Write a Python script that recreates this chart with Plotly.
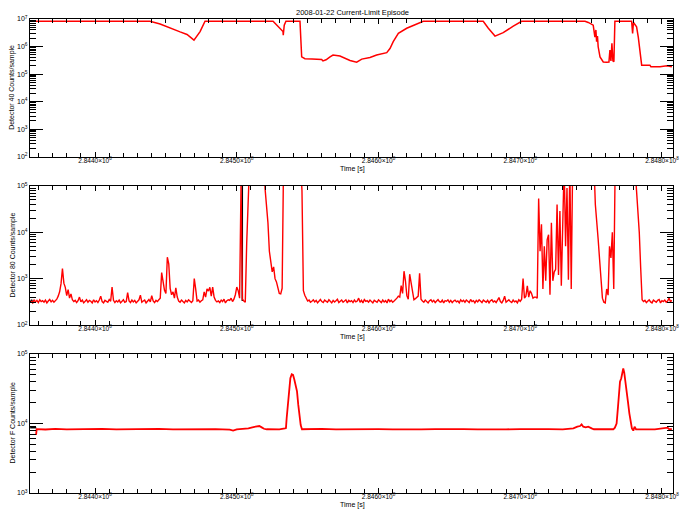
import numpy as np
import plotly.graph_objects as go

# ---------------- data ----------------
T0 = 2.8440e8  # s, reference epoch for the time offsets below (ks = 1000 s)

title_text = "2008-01-22 Current-Limit Episode"
x_tick_vals = [2.8440e8, 2.8450e8, 2.8460e8, 2.8470e8, 2.8480e8]
x_tick_text = ["2.8440×10<sup>8</sup>", "2.8450×10<sup>8</sup>", "2.8460×10<sup>8</sup>",
               "2.8470×10<sup>8</sup>", "2.8480×10<sup>8</sup>"]
y_labels = ["Detector 40 Counts/sample", "Detector 80 Counts/sample", "Detector F Counts/sample"]
x_label = "Time [s]"

# Panel 1 : Detector 40
d40_ks = [-45.2, 38.8, 45.9, 52.9, 60.0, 64.9, 69.1, 69.8, 74.1, 77.6,
          125.6, 129.1, 132.6, 132.8, 133.5, 134.7, 144.6, 145.8, 148.1, 153.1,
          159.9, 160.8, 163.0, 165.8, 167.9, 172.8, 177.8, 179.9, 184.6, 188.2,
          194.0, 198.7, 205.8, 208.1, 210.4, 214.0, 219.9, 226.9, 231.6, 273.9,
          277.5, 282.2, 288.0, 295.1, 301.0, 345.7, 348.0, 351.5, 352.7, 353.4,
          353.9, 354.5, 355.0, 356.3, 358.6, 361.0, 362.6, 363.3, 364.0, 364.7,
          365.4, 366.1, 366.8, 378.6, 379.3, 379.9, 382.1, 383.3, 384.5, 385.7,
          391.5, 392.2, 398.6, 403.5, 407.0]
d40_counts = [8.3e6, 8.3e6, 6.6e6, 4.6e6, 3.4e6, 2.75e6, 1.8e6, 1.7e6, 3.5e6, 8.3e6,
              8.3e6, 5.2e6, 3.5e6, 2.6e6, 6.0e6, 8.3e6, 8.3e6, 4.2e5, 3.6e5, 3.5e5,
              3.4e5, 3.0e5, 3.3e5, 4.2e5, 4.9e5, 4.5e5, 3.5e5, 3.1e5, 2.7e5, 3.5e5,
              4.0e5, 4.9e5, 6.0e5, 8.5e5, 1.5e6, 3.0e6, 4.6e6, 6.6e6, 8.3e6, 8.3e6,
              4.6e6, 2.4e6, 3.2e6, 5.5e6, 8.3e6, 8.3e6, 7.5e6, 6.0e6, 2.2e6, 4.0e6,
              1.5e6, 2.4e6, 9.8e5, 4.2e5, 2.75e5, 2.7e5, 2.75e5, 7.4e5, 3.0e5, 1.3e6,
              3.0e5, 2.8e5, 8.3e6, 8.3e6, 3.0e6, 7.5e6, 5.2e6, 2.2e6, 5.6e5, 2.1e5,
              2.1e5, 1.85e5, 1.85e5, 2.0e5, 1.85e5]

# Panel 2 : Detector 80, one sample per ks starting at -45 ks
d80_start_ks = -45.0
d80_step_ks = 1.0
d80_counts = [
    330, 300, 345, 315, 340, 305, 350, 320, 335, 310, 345, 300, 330, 355, 315, 340, 310, 330, 360, 420,
    520, 780, 1650, 800, 650, 430, 580, 380, 470, 350, 320, 340, 305, 335, 400, 315, 345, 300, 330, 350,
    310, 340, 325, 300, 350, 315, 335, 305, 345, 420, 320, 300, 340, 330, 310, 355, 325, 660, 340, 305,
    335, 315, 345, 300, 330, 350, 310, 320, 500, 330, 305, 345, 315, 340, 300, 335, 350, 440, 310, 330,
    345, 300, 325, 355, 315, 430, 330, 305, 340, 320, 350, 380, 1350, 950, 560, 480, 2900, 2100, 620, 450,
    520, 380, 630, 400, 330, 310, 345, 320, 300, 340, 315, 350, 325, 305, 335, 1000, 600, 330, 345, 310,
    335, 350, 520, 400, 600, 540, 650, 420, 660, 400, 340, 315, 330, 305, 345, 320, 360, 300, 335, 350,
    340, 380, 320, 360, 450, 660, 550, 380, 110000, 360, 330, 310, 5800, 300000, 300000, 300000, 300000, 300000, 300000, 300000,
    300000, 300000, 300000, 300000, 300000, 85000, 35000, 16000, 3900, 2100, 1400, 1800, 1000, 850, 600, 480, 470, 620, 300000, 300000,
    300000, 300000, 300000, 300000, 300000, 300000, 300000, 300000, 300000, 300000, 300000, 80000, 550, 440, 380, 330, 345, 310, 325, 350,
    315, 340, 300, 335, 355, 320, 305, 345, 330, 310, 350, 325, 300, 340, 315, 335, 360, 305, 330, 345,
    310, 325, 350, 300, 340, 320, 335, 305, 345, 315, 330, 380, 310, 340, 300, 355, 325, 335, 310, 345,
    320, 300, 340, 330, 310, 350, 325, 305, 345, 315, 335, 300, 360, 320, 340, 310, 330, 350, 380, 420,
    400, 710, 480, 1450, 900, 430, 360, 1250, 760, 460, 350, 370, 390, 420, 1300, 360, 330, 310, 345, 320,
    300, 335, 350, 315, 340, 305, 330, 355, 320, 310, 345, 300, 335, 325, 350, 310, 340, 305, 330, 345,
    315, 330, 300, 350, 320, 340, 310, 345, 325, 305, 355, 320, 335, 300, 340, 315, 350, 330, 305, 345,
    320, 310, 340, 300, 335, 350, 315, 330, 305, 345, 390, 320, 300, 340, 420, 310, 335, 350, 320, 305,
    345, 315, 330, 300, 350, 325, 360, 1000, 380, 420, 700, 400, 550, 480, 380, 400, 400, 380, 54000, 3900,
    15000, 600, 5000, 900, 6900, 8900, 450, 16000, 900, 1400, 1600, 40000, 1200, 29000, 700, 10000, 300000, 5000, 90000, 950,
    300000, 600, 300000, 300000, 300000, 300000, 300000, 300000, 300000, 300000, 300000, 300000, 300000, 300000, 300000, 300000, 300000, 300000, 40000, 20000,
    7000, 2600, 1000, 380, 310, 300, 600, 440, 5000, 2800, 10000, 600, 300000, 300000, 300000, 300000, 300000, 300000, 300000, 300000,
    300000, 300000, 300000, 300000, 300000, 300000, 300000, 85000, 35000, 10000, 1700, 350, 320, 340, 305, 330, 350, 315, 300, 345,
    325, 310, 340, 355, 300, 335, 320, 345, 310, 330, 380, 320, 340,
]
d80_black_ks = [-45.6, -44.8, -44.0, -43.2, None, 103.9, 103.9]
d80_black_counts = [310, 350, 300, 340, None, 330, 110000]

# Panel 3 : Detector F
dF_ks = [-41.6, -41.2, -35, -28, -20, -12, -5, 5, 15, 25, 35, 45, 55, 65, 75, 85, 95, 97.4, 100,
         106, 108.2, 111.7, 114, 115.9, 117.6, 119.2, 121.1, 126, 130, 134, 134.7, 135.2, 136,
         136.7, 137.1, 137.8, 138.8, 139.7, 140.6, 141.6, 142.5, 143.4, 144.1, 145.1, 146, 150,
         154, 160, 170, 180, 190, 200, 210, 220, 230, 240, 250, 260, 270, 280, 290, 300, 310,
         320, 330, 337.5, 340.3, 342.2, 343.3, 344.5, 346.2, 348, 350.4, 352, 356, 360, 365.7,
         366.8, 368, 369, 369.7, 370.4, 371.3, 372, 372.7, 373.4, 374.1, 375.1, 376, 377, 377.9,
         378.8, 379.8, 380.7, 381.7, 388, 395, 404, 405, 407]
dF_counts = [6840, 8300, 8200, 8350, 8250, 8300, 8200, 8350, 8250, 8300, 8200, 8350, 8250, 8300,
             8250, 8300, 8150, 7900, 8250, 8400, 8500, 8900, 9100, 9200, 8800, 8400, 8260, 8300,
             8250, 8500, 8600, 11900, 19500, 30300, 38000, 44700, 51000, 50000, 43000, 36000,
             29000, 18500, 13000, 9500, 8260, 8300, 8200, 8350, 8250, 8300, 8200, 8300, 8250,
             8350, 8250, 8300, 8200, 8300, 8250, 8350, 8250, 8300, 8200, 8300, 8250, 8500, 9000,
             9200, 9700, 9000, 8800, 9000, 8500, 8260, 8300, 8250, 8260, 8700, 10000, 17500,
             30000, 40000, 44700, 54000, 62000, 54000, 42000, 34000, 20600, 14000, 10600, 8500,
             7900, 9000, 8260, 8300, 8250, 8700, 8300, 8260]
dF_black_ks = [-45.8, -41.5]
dF_black_counts = [8700, 8700]


def to_seconds(ks_list):
    return [None if k is None else T0 + k * 1000.0 for k in ks_list]


d80_ks = [d80_start_ks + d80_step_ks * i for i in range(len(d80_counts))]

# ---------------- figure ----------------
W, H = 689, 518
ML, MR, MT, MB = 30, 16, 19, 25
PW = W - ML - MR
PH = H - MT - MB

# panel pixel extents (top, bottom)
panels_px = [(19, 156.7), (186, 325), (354, 493)]
domains = [[1 - (b - MT) / PH, 1 - (t - MT) / PH] for t, b in panels_px]
domains[2][0] = 0.0

FONT = "Liberation Sans"
RED = "#ff0000"

fig = go.Figure()

fig.add_trace(go.Scatter(x=to_seconds(d40_ks), y=d40_counts, mode="lines",
                         line=dict(color=RED, width=1.5), xaxis="x", yaxis="y"))
fig.add_trace(go.Scatter(x=to_seconds(d80_black_ks), y=d80_black_counts, mode="lines",
                         line=dict(color="black", width=1.5), xaxis="x2", yaxis="y2",
                         connectgaps=False))
fig.add_trace(go.Scatter(x=to_seconds(d80_ks), y=d80_counts, mode="lines",
                         line=dict(color=RED, width=1.4), xaxis="x2", yaxis="y2"))
fig.add_trace(go.Scatter(x=to_seconds(dF_black_ks), y=dF_black_counts, mode="lines",
                         line=dict(color="black", width=1.5), xaxis="x3", yaxis="y3"))
fig.add_trace(go.Scatter(x=to_seconds(dF_ks), y=dF_counts, mode="lines",
                         line=dict(color=RED, width=1.8), xaxis="x3", yaxis="y3"))

x_range = [T0 - 45.9e3, T0 + 407.8e3]
xtickfont = dict(family=FONT, size=6.5, color="black")
ytickfont = dict(family=FONT, size=7, color="black")


def xaxis_cfg(anchor):
    return dict(range=x_range, anchor=anchor, domain=[0, 1], showline=True, linecolor="black",
                linewidth=1, mirror="ticks", ticks="inside", ticklen=5, tickcolor="black",
                tickmode="array", tickvals=x_tick_vals, ticktext=x_tick_text,
                showgrid=False, zeroline=False, tickfont=xtickfont, automargin=False,
                ticklabelstandoff=-3,
                minor=dict(ticks="inside", ticklen=4, tick0=T0, dtick=1e4,
                           tickcolor="black", showgrid=False))


def yaxis_cfg(anchor, dom, lo, hi):
    vals = [10 ** e for e in range(lo, hi + 1)]
    txt = ["10<sup>%d</sup>" % e for e in range(lo, hi + 1)]
    return dict(type="log", range=[lo, hi], anchor=anchor, domain=dom, showline=True,
                linecolor="black", linewidth=1, mirror="ticks", ticks="inside", ticklen=13,
                tickcolor="black", tickmode="array", tickvals=vals, ticktext=txt,
                showgrid=False, zeroline=False, tickfont=ytickfont, automargin=False,
                minor=dict(ticks="inside", ticklen=6, dtick="D1", tickcolor="black",
                           showgrid=False))


annotations = [dict(text=title_text, xref="paper", yref="paper", x=(352 - ML) / PW,
                    y=1 + (MT - 13) / PH, xanchor="center", yanchor="middle",
                    showarrow=False, font=dict(family=FONT, size=7.5, color="black"))]
for i, (t, b) in enumerate(panels_px):
    annotations.append(dict(text=y_labels[i], xref="paper", yref="paper",
                            x=(12 - ML) / PW, y=1 - ((t + b) / 2 - MT) / PH,
                            xanchor="center", yanchor="middle", textangle=-90,
                            showarrow=False, font=dict(family=FONT, size=7, color="black")))
    annotations.append(dict(text=x_label, xref="paper", yref="paper",
                            x=(338 - ML) / PW, y=1 - (b + 12 - MT) / PH,
                            xanchor="left", yanchor="middle",
                            showarrow=False, font=dict(family=FONT, size=7, color="black")))

fig.update_layout(
    template="none",
    width=W, height=H,
    margin=dict(l=ML, r=MR, t=MT, b=MB, pad=0),
    paper_bgcolor="white", plot_bgcolor="white",
    showlegend=False,
    xaxis=xaxis_cfg("y"), xaxis2=xaxis_cfg("y2"), xaxis3=xaxis_cfg("y3"),
    yaxis=yaxis_cfg("x", domains[0], 2, 7),
    yaxis2=yaxis_cfg("x2", domains[1], 2, 5),
    yaxis3=yaxis_cfg("x3", domains[2], 3, 5),
    annotations=annotations,
)

fig.write_html("out.html", config={"displayModeBar": False},
               post_script="document.body.style.margin='0';")
